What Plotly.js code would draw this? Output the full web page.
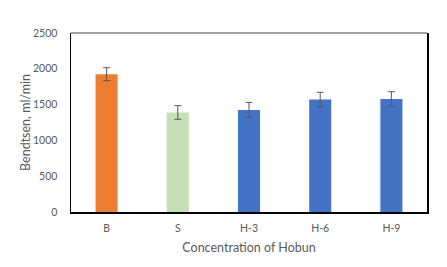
<!DOCTYPE html>
<html>
<head>
<meta charset="utf-8">
<script src="https://cdn.plot.ly/plotly-3.0.1.min.js"></script>
<style>html,body{margin:0;padding:0;background:#fff;}#chart{width:447px;height:267px;}</style>
</head>
<body>
<div id="chart"></div>
<script>
const categories = ["B", "S", "H-3", "H-6", "H-9"];
const values = [1925, 1390, 1425, 1570, 1578];
const errors = [90, 95, 105, 102, 102];
const barColors = ["#ED7D31", "#C5E0B4", "#4472C4", "#4472C4", "#4472C4"];
const yTicks = [0, 500, 1000, 1500, 2000, 2500];
const yTitle = "Bendtsen, ml/min";
const xTitle = "Concentration of Hobun";

const trace = {
  type: "bar",
  x: categories,
  y: values,
  width: 0.31,
  marker: {color: barColors},
  error_y: {type: "data", array: errors, visible: true, color: "#595959", thickness: 1, width: 3.5},
  hoverinfo: "skip"
};

const font = {family: "Lato, 'Open Sans', sans-serif", size: 10.5, color: "#595959"};
const titleFont = {family: font.family, size: 12.5, color: "#595959"};

const layout = {
  width: 447, height: 267,
  margin: {l: 70.5, r: 19.5, t: 33, b: 55, pad: 0},
  paper_bgcolor: "#ffffff",
  plot_bgcolor: "#ffffff",
  showlegend: false,
  font: font,
  xaxis: {
    type: "category",
    automargin: true,
    showline: true, linecolor: "#000000", linewidth: 1.5,
    showgrid: false, zeroline: false, ticks: "",
    tickfont: font,
    ticklabelstandoff: 6,
    title: {text: xTitle, font: titleFont, standoff: 10}
  },
  yaxis: {
    range: [0, 2500],
    tickvals: yTicks,
    ticktext: yTicks.map(String),
    showline: true, linecolor: "#000000", linewidth: 1.5, mirror: true,
    showgrid: false, zeroline: false, ticks: "",
    tickfont: font,
    ticklabelstandoff: 10
  },
  annotations: [{
    text: yTitle, font: titleFont, textangle: -90,
    xref: "paper", yref: "paper", x: -0.128, y: 0.5,
    xanchor: "center", yanchor: "middle", showarrow: false
  }],
  shapes: [{
    type: "line", xref: "paper", yref: "paper", x0: 0, x1: 1, y0: 1, y1: 1,
    line: {color: "#808080", width: 1.5}
  }]
};

Plotly.newPlot("chart", [trace], layout, {displayModeBar: false, staticPlot: true});
</script>
</body>
</html>
